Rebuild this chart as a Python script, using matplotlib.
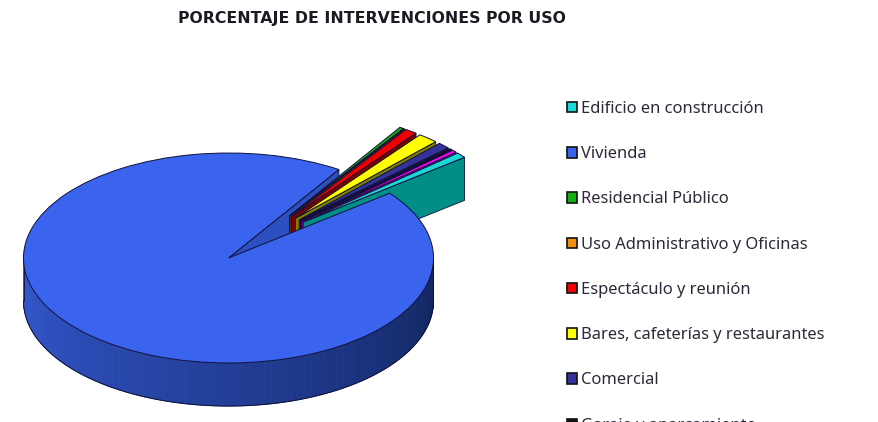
import numpy as np
import matplotlib
matplotlib.use('Agg')
import matplotlib.pyplot as plt
from matplotlib.patches import Patch

# percentages, in legend order
uso = ['Edificio en construcción', 'Vivienda', 'Residencial Público',
       'Uso Administrativo y Oficinas', 'Espectáculo y reunión',
       'Bares, cafeterías y restaurantes', 'Comercial', 'Garaje y aparcamiento']
porcentaje = [0.83, 94.64, 0.33, 0.03, 0.97, 1.61, 0.97, 0.22, 0.40]
colores = ['#19D8D8', '#3A64EE', '#12B012', '#F09010', '#F00000', '#FFFF00', '#333399', '#111111', '#FF00FF']
paredes = ['#008E86', '#2C50C0', '#0A600A', '#8A5008', '#800000', '#808000', '#1C1C60', '#000000', '#900090']
separa = [0.5, 0, 0.5, 0.5, 0.5, 0.5, 0.5, 0.5, 0.5]

W, H = 879, 422
cx, cy, rx, ry = 228.5, 258, 205, 105
alto = 0.41

fig = plt.figure(figsize=(W / 100, H / 100), dpi=100)
ax = fig.add_axes([0, 0, 1, 1])

wedges, _ = ax.pie(porcentaje, colors=colores, explode=separa, startangle=41.1, counterclock=False,
                   wedgeprops={'edgecolor': '#10103a', 'linewidth': 0.7})
ax.set_aspect('auto')
ax.set_xlim(-cx / rx, (W - cx) / rx)
ax.set_ylim(-(H - cy) / ry, cy / ry)
ax.axis('off')

# the pulled out slices fan out less than their own bisectors would give
for i, w in enumerate(wedges):
    if i != 1:
        medio = ((w.theta1 + w.theta2) / 2) % 360
        b = np.radians(48.5 + (medio - 48.5) * 0.6)
        w.set_center((0.5 * np.cos(b), 0.5 * np.sin(b)))

# order front to back: vivienda on top of the pulled out slices
orden_z = {2: 3, 3: 3.2, 4: 3.4, 5: 3.6, 6: 3.8, 7: 4.0, 8: 4.2, 0: 4.4}
for i, w in enumerate(wedges):
    x0, y0 = w.center
    a = np.radians(w.theta1)
    xs = [x0, x0 + np.cos(a), x0 + np.cos(a), x0]
    ys = [y0, y0 + np.sin(a), y0 + np.sin(a) - alto, y0 - alto]
    z = 2 if i == 1 else orden_z[i]
    ax.fill(xs, ys, color=paredes[i], ec='#10103a', lw=0.6, zorder=z)
    w.set_zorder(7 if i == 1 else z + 0.1)

# curved wall of the big slice, lighter on the left and dark on the right
arco = np.linspace(180, 360, 91)
for a1, a2 in zip(arco[:-1], arco[1:]):
    t = (a1 - 180) / 180
    c = np.array([52, 88, 208]) * (1 - t) + np.array([16, 36, 92]) * t
    th = np.radians(np.linspace(a1, a2, 4))
    xs = np.concatenate([np.cos(th), np.cos(th[::-1])])
    ys = np.concatenate([np.sin(th), np.sin(th[::-1]) - alto])
    ax.fill(xs, ys, color=c / 255, ec=c / 255, lw=0.6, zorder=6)
th = np.radians(arco)
ax.plot(np.cos(th), np.sin(th) - alto, color='#10103a', lw=0.7, zorder=6.5)
ax.plot([-1, -1], [0, -alto], color='#10103a', lw=0.6, zorder=6.5)
ax.plot([1, 1], [0, -alto], color='#10103a', lw=0.6, zorder=6.5)

fig.text(371.5 / W, 1 - 18 / H, 'PORCENTAJE DE INTERVENCIONES POR USO', ha='center', va='center',
         fontsize=11.3, fontweight='bold', family='DejaVu Sans', color='#1a1a22')

handles = [Patch(facecolor=colores[i], edgecolor='#111111', linewidth=1.2) for i in range(len(uso))]
fig.legend(handles, uso, loc='upper left', bbox_to_anchor=(562 / W, 1 - 96 / H), frameon=False,
           prop={'family': 'Noto Sans', 'size': 11.9}, labelcolor='#2a2a38', labelspacing=1.77,
           handlelength=0.6, handleheight=0.6, handletextpad=0.25, borderpad=0.3, borderaxespad=0)

fig.savefig('out.png', dpi=100)
